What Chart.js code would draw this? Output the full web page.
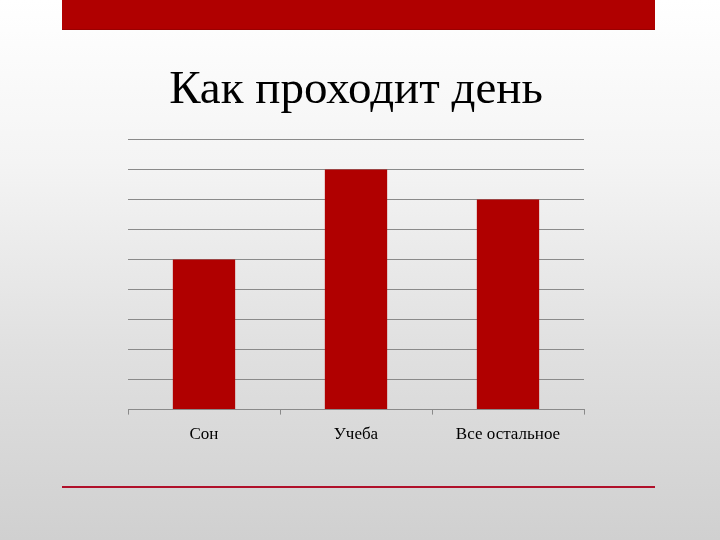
<!DOCTYPE html>
<html>
<head>
<meta charset="utf-8">
<script src="https://cdn.jsdelivr.net/npm/chart.js@4/dist/chart.umd.min.js"></script>
<style>
  html, body { margin: 0; padding: 0; }
  body {
    width: 720px; height: 540px; overflow: hidden; position: relative;
    background: linear-gradient(to bottom, #ffffff 0%, #f4f4f4 30%, #e0e0e0 65%, #d0d0d0 100%);
  }
  #topbar { position: absolute; left: 62px; top: 0; width: 593px; height: 29px; background: #b00000; border-bottom: 1px solid #9a0000; }
  #bottomline { position: absolute; left: 62px; top: 486px; width: 593px; height: 2px; background: #b0102a; }
  #wrap { position: absolute; left: 0; top: 0; width: 720px; height: 540px; }
</style>
</head>
<body>
<div id="topbar"></div>
<div id="bottomline"></div>
<div id="wrap"><canvas id="barChart"></canvas></div>
<script>
var categories = ['Сон', 'Учеба', 'Все остальное'];
var values = [5, 8, 7];
var yMax = 9;

var chart = new Chart(document.querySelector('#barChart'), {
    type: 'bar',
    data: {
        labels: categories,
        datasets: [{
            data: values,
            backgroundColor: '#b00000',
            borderWidth: 0,
            barPercentage: 0.41,
            categoryPercentage: 1
        }]
    },
    options: {
        responsive: true,
        maintainAspectRatio: false,
        animation: false,
        layout: {
            padding: { left: 128, right: 136, top: 0, bottom: 85 }
        },
        plugins: {
            legend: { display: false },
            tooltip: { enabled: false },
            title: {
                display: true,
                text: 'Как проходит день',
                fullSize: false,
                color: '#000000',
                font: { family: 'Liberation Serif', size: 47, weight: 'normal', lineHeight: 1.2 },
                padding: { top: 62, bottom: 21 }
            }
        },
        scales: {
            x: {
                grid: { display: true, drawOnChartArea: false, drawTicks: true, tickLength: 5, color: '#8a8a8a' },
                border: { display: true, color: '#8a8a8a', width: 1 },
                ticks: { color: '#000000', padding: 10, font: { family: 'Liberation Serif', size: 17 } }
            },
            y: {
                min: 0,
                max: yMax,
                ticks: { display: false, stepSize: 1 },
                grid: { color: '#8a8a8a', drawTicks: false },
                border: { display: false }
            }
        }
    }
});
</script>
</body>
</html>
